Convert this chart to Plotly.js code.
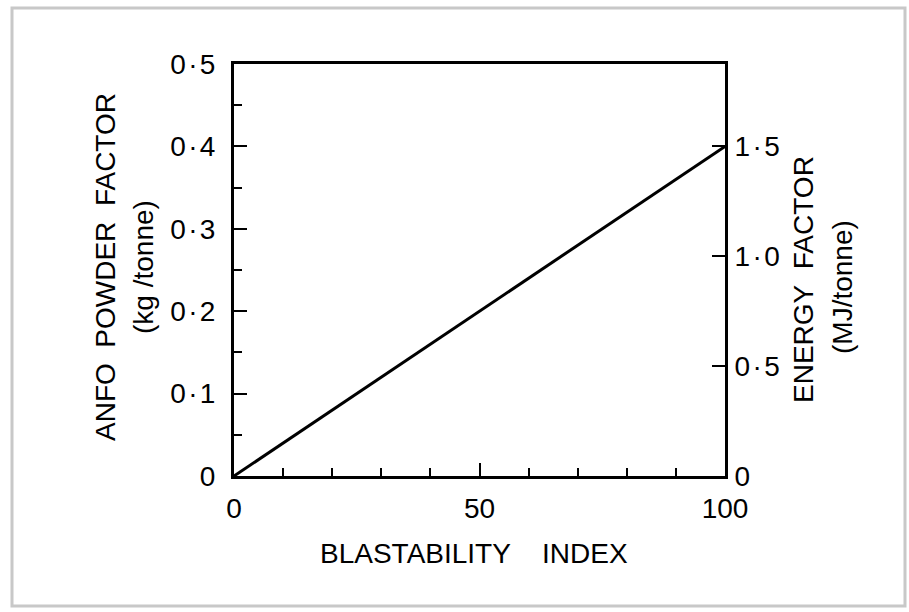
<!DOCTYPE html>
<html>
<head>
<meta charset="utf-8">
<script src="https://cdn.plot.ly/plotly-3.0.1.min.js"></script>
<style>
  html, body { margin: 0; padding: 0; background: #ffffff; }
  #chart { width: 909px; height: 612px; }
</style>
</head>
<body>
<div id="chart"></div>
<script>
// ---- data ----
const blastabilityIndex = [0, 100];
const anfoPowderFactor = [0, 0.4];

const xTickVals = [0, 50, 100];
const xTickText = ['0', '50', '100'];
const yTickVals = [0, 0.1, 0.2, 0.3, 0.4, 0.5];
const yTickText = ['0', '0\u200a·\u200a1', '0\u200a·\u200a2', '0\u200a·\u200a3', '0\u200a·\u200a4', '0\u200a·\u200a5'];
const y2TickVals = [0, 0.5, 1.0, 1.5];
const y2TickText = ['0', '0\u200a·\u200a5', '1\u200a·\u200a0', '1\u200a·\u200a5'];

// ---- layout geometry ----
const W = 909, H = 612;
const L = 234, R = 725, T = 64, B = 476;
const pw = R - L, ph = B - T;
const px = v => (v - L) / pw;
const py = v => (B - v) / ph;

const fontFam = '"Liberation Sans", Arial, sans-serif';
const nb = '\u00a0';

const trace = {
  x: blastabilityIndex,
  y: anfoPowderFactor,
  type: 'scatter',
  mode: 'lines',
  line: { color: '#000', width: 3 },
  hoverinfo: 'skip',
  showlegend: false
};
// invisible trace to activate y2
const trace2 = {
  x: [0], y: [0], yaxis: 'y2', type: 'scatter', mode: 'markers',
  marker: { opacity: 0 }, showlegend: false, hoverinfo: 'skip'
};

const layout = {
  width: W, height: H,
  margin: { l: L, r: W - R, t: T, b: H - B, pad: 0 },
  paper_bgcolor: '#ffffff',
  plot_bgcolor: '#ffffff',
  font: { family: fontFam, color: '#000', size: 28 },
  showlegend: false,
  xaxis: {
    range: [0, 100],
    showgrid: false, zeroline: false,
    showline: true, linecolor: '#000', linewidth: 3, mirror: true,
    ticks: 'inside', ticklen: 13, tickwidth: 2, tickcolor: '#000',
    tickvals: xTickVals, ticktext: xTickText,
    tickfont: { size: 28, family: fontFam },
    ticklabelstandoff: 5,
    minor: { tickvals: [10, 20, 30, 40, 60, 70, 80, 90], ticks: 'inside', ticklen: 8, tickwidth: 2, tickcolor: '#000', showgrid: false }
  },
  yaxis: {
    range: [0, 0.5],
    showgrid: false, zeroline: false,
    showline: true, linecolor: '#000', linewidth: 3, mirror: false,
    ticks: 'inside', ticklen: 13, tickwidth: 2, tickcolor: '#000',
    tickvals: yTickVals, ticktext: yTickText,
    tickfont: { size: 28, family: fontFam },
    ticklabelstandoff: 10,
    minor: { tickvals: [0.05, 0.15, 0.25, 0.35, 0.45], ticks: 'inside', ticklen: 8, tickwidth: 2, tickcolor: '#000', showgrid: false }
  },
  yaxis2: {
    overlaying: 'y', side: 'right',
    range: [0, 1.875],
    showgrid: false, zeroline: false,
    showline: true, linecolor: '#000', linewidth: 3,
    ticks: 'inside', ticklen: 13, tickwidth: 2, tickcolor: '#000',
    tickvals: y2TickVals, ticktext: y2TickText,
    tickfont: { size: 28, family: fontFam },
    ticklabelstandoff: 1
  },
  annotations: [
    { text: 'BLASTABILITY' + nb + nb + nb + nb + 'INDEX', xref: 'paper', yref: 'paper',
      x: px(474), y: py(553), xanchor: 'center', yanchor: 'middle', showarrow: false,
      font: { size: 28, family: fontFam } },
    { text: 'ANFO' + nb + nb + 'POWDER' + nb + nb + 'FACTOR', xref: 'paper', yref: 'paper',
      x: px(105), y: py(267), xanchor: 'center', yanchor: 'middle', textangle: -90, showarrow: false,
      font: { size: 28, family: fontFam } },
    { text: '(kg' + nb + '/tonne)', xref: 'paper', yref: 'paper',
      x: px(143), y: py(267), xanchor: 'center', yanchor: 'middle', textangle: -90, showarrow: false,
      font: { size: 28, family: fontFam } },
    { text: 'ENERGY' + nb + nb + 'FACTOR', xref: 'paper', yref: 'paper',
      x: px(803), y: py(280), xanchor: 'center', yanchor: 'middle', textangle: -90, showarrow: false,
      font: { size: 28, family: fontFam } },
    { text: '(MJ/tonne)', xref: 'paper', yref: 'paper',
      x: px(842), y: py(287), xanchor: 'center', yanchor: 'middle', textangle: -90, showarrow: false,
      font: { size: 28, family: fontFam } }
  ],
  shapes: [
    { type: 'rect', xref: 'paper', yref: 'paper', layer: 'below',
      x0: px(12), x1: px(905), y0: py(606), y1: py(8),
      line: { color: '#c8c8c8', width: 3 }, fillcolor: 'rgba(0,0,0,0)' }
  ]
};

Plotly.newPlot('chart', [trace, trace2], layout, { displayModeBar: false, staticPlot: true });
</script>
</body>
</html>
